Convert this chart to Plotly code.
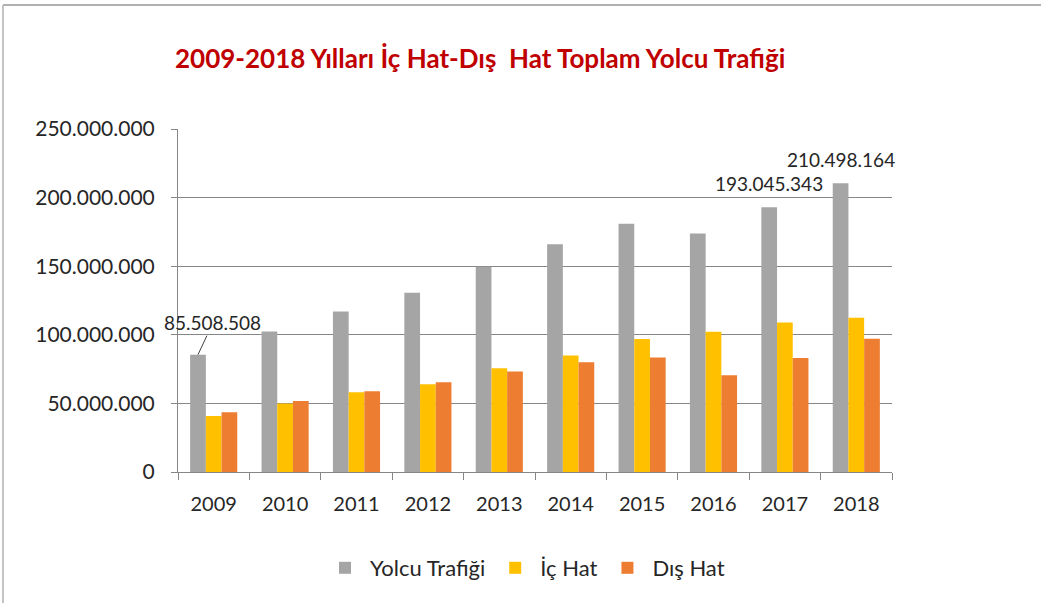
import plotly.graph_objects as go

years = ["2009", "2010", "2011", "2012", "2013", "2014", "2015", "2016", "2017", "2018"]
yolcu = [85508508, 102400000, 117000000, 130700000, 149600000, 166000000, 181000000, 173900000, 193045343, 210498164]
ic_hat = [40800000, 49900000, 58200000, 64000000, 75700000, 84900000, 96900000, 102200000, 109000000, 112400000]
dis_hat = [43600000, 51800000, 58900000, 65500000, 73200000, 80000000, 83400000, 70500000, 83000000, 97100000]
series_names = ["Yolcu Trafiği", "İç Hat", "Dış Hat"]
colors = ["#A5A5A5", "#FFC000", "#ED7D31"]
tick_vals = [0, 50000000, 100000000, 150000000, 200000000, 250000000]
tick_text = ["0", "50.000.000", "100.000.000", "150.000.000", "200.000.000", "250.000.000"]
title_text = "2009-2018 Yılları İç Hat-Dış  Hat Toplam Yolcu Trafiği"

W, H = 1041, 603
L, R, T, B = 178, 149, 129, 131
pw, ph = W - L - R, H - T - B

def fmt(v):
    return f"{v:,}".replace(",", ".")

font = "Lato"
txt = "#262626"
fig = go.Figure()
for name, vals, c in zip(series_names, [yolcu, ic_hat, dis_hat], colors):
    fig.add_trace(go.Bar(x=years, y=vals, name=name, marker=dict(color=c, line=dict(width=0))))

bargap = 0.34
bw = (1 - bargap) / 3  # width of each bar in category units
gray_off = -bw  # gray bar is the first of three

annotations = []
annotations.append(dict(x=0 + gray_off, y=yolcu[0], xref="x", yref="y", text=fmt(yolcu[0]),
                        showarrow=True, arrowhead=0, arrowwidth=1, arrowcolor="#404040",
                        ax=15, ay=-32, font=dict(family=font, size=19, color=txt)))
for i in [8, 9]:
    annotations.append(dict(x=i + gray_off, y=yolcu[i], xref="x", yref="y", text=fmt(yolcu[i]),
                            showarrow=False, yshift=24, font=dict(family=font, size=19, color=txt)))
annotations.append(dict(x=(480 - L) / pw, y=(H - 58 - B) / ph, xref="paper", yref="paper",
                        xanchor="center", yanchor="middle",
                        text="<b>" + title_text + "</b>", showarrow=False,
                        font=dict(family=font, size=26, color="#C00000")))

shapes = [
    dict(type="line", xref="paper", yref="paper", x0=(3 - L) / pw, x1=(W + 5 - L) / pw,
         y0=(H - 5 - B) / ph, y1=(H - 5 - B) / ph, line=dict(color="#B0B0B0", width=2)),
    dict(type="line", xref="paper", yref="paper", x0=(3 - L) / pw, x1=(3 - L) / pw,
         y0=(H - 5 - B) / ph, y1=-B / ph - 0.05, line=dict(color="#B0B0B0", width=1.5)),
]

fig.update_layout(
    width=W, height=H,
    margin=dict(l=L, r=R, t=T, b=B, pad=0),
    paper_bgcolor="white", plot_bgcolor="white",
    barmode="group", bargap=bargap, bargroupgap=0,
    font=dict(family=font, size=18, color=txt),
    showlegend=True,
    legend=dict(orientation="h", x=(525 - L) / pw, xanchor="center", y=(H - 568 - B) / ph, yanchor="middle",
                font=dict(family=font, size=22, color=txt), itemwidth=40, traceorder="normal"),
    annotations=annotations, shapes=shapes,
)
fig.update_xaxes(type="category", range=[-0.5, len(years) - 0.5], autorange=False,
                 showline=True, linecolor="#868686", linewidth=1,
                 ticks="outside", tickson="boundaries", ticklen=7, tickcolor="#868686",
                 ticklabelstandoff=14,
                 tickfont=dict(family=font, size=20, color=txt), showgrid=False)
fig.update_yaxes(range=[0, 250000000], autorange=False, tickvals=tick_vals, ticktext=tick_text,
                 showline=True, linecolor="#868686", linewidth=1,
                 ticks="outside", ticklen=6, tickcolor="#868686", ticklabelstandoff=12,
                 showgrid=True, gridcolor="#868686", gridwidth=1, zeroline=False,
                 tickfont=dict(family=font, size=21, color=txt))

fig.write_html("out.html", config={"displayModeBar": False},
               post_script="document.body.style.margin='0';")
